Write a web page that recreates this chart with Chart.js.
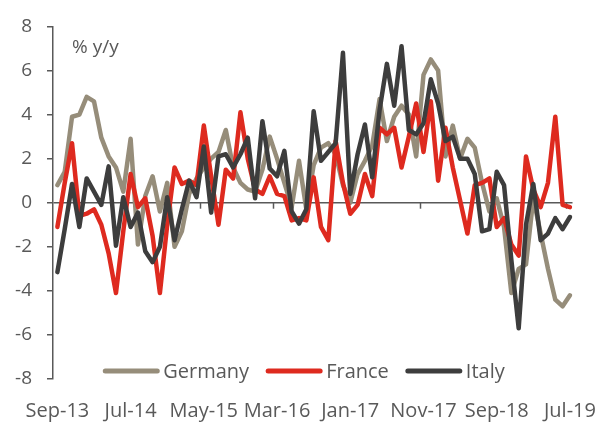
<!DOCTYPE html>
<html>
<head>
<meta charset="utf-8">
<script src="https://cdn.jsdelivr.net/npm/chart.js@4.4.1/dist/chart.umd.min.js"></script>
<style>
	html, body { margin: 0; padding: 0; background: #ffffff; }
	#wrap { width: 602px; height: 423px; }
</style>
</head>
<body>
<div id="wrap"><canvas id="chart" width="602" height="423"></canvas></div>
<script>
// monthly categories, Sep-13 .. Jul-19
const months = [
	"Sep-13", "Oct-13", "Nov-13", "Dec-13",
	"Jan-14", "Feb-14", "Mar-14", "Apr-14", "May-14", "Jun-14", "Jul-14", "Aug-14", "Sep-14", "Oct-14", "Nov-14", "Dec-14",
	"Jan-15", "Feb-15", "Mar-15", "Apr-15", "May-15", "Jun-15", "Jul-15", "Aug-15", "Sep-15", "Oct-15", "Nov-15", "Dec-15",
	"Jan-16", "Feb-16", "Mar-16", "Apr-16", "May-16", "Jun-16", "Jul-16", "Aug-16", "Sep-16", "Oct-16", "Nov-16", "Dec-16",
	"Jan-17", "Feb-17", "Mar-17", "Apr-17", "May-17", "Jun-17", "Jul-17", "Aug-17", "Sep-17", "Oct-17", "Nov-17", "Dec-17",
	"Jan-18", "Feb-18", "Mar-18", "Apr-18", "May-18", "Jun-18", "Jul-18", "Aug-18", "Sep-18", "Oct-18", "Nov-18", "Dec-18",
	"Jan-19", "Feb-19", "Mar-19", "Apr-19", "May-19", "Jun-19", "Jul-19",
];

// every 10th month gets a label
const labelIndex = [0, 10, 20, 30, 40, 50, 60, 70];
const yTicks = [-8, -6, -4, -2, 0, 2, 4, 6, 8];

const germany = [
	0.8, 1.4, 3.9, 4.0, 4.8, 4.6, 2.95, 2.1, 1.6, 0.5,
	2.9, -1.9, 0.3, 1.2, -0.4, 0.9, -2.0, -1.3, 0.4, 1.1,
	1.6, 2.0, 2.3, 3.3, 1.6, 0.9, 0.6, 0.5, 1.5, 3.0,
	2.0, 0.9, -0.2, 1.9, -0.3, 1.7, 2.5, 2.7, 2.2, 0.8,
	0.0, 1.3, 1.9, 2.6, 4.7, 2.8, 3.9, 4.4, 4.0, 2.1,
	5.8, 6.5, 6.0, 2.1, 3.5, 2.0, 2.9, 2.5, 0.9, -0.4,
	0.2, -1.1, -4.1, -3.0, -2.8, 0.2, -1.4, -3.0, -4.4, -4.7,
	-4.2,
];

const france = [
	-1.1, 0.9, 2.7, -0.6, -0.5, -0.3, -1.0, -2.3, -4.1, -1.3,
	1.3, -0.2, 0.2, -1.5, -4.1, -1.0, 1.6, 0.85, 1.0, 0.8,
	3.5, 1.2, -1.0, 1.5, 1.1, 4.1, 2.0, 0.6, 0.4, 1.2,
	0.4, 0.3, -0.8, -0.7, -0.8, 1.15, -1.1, -1.7, 2.8, 0.9,
	-0.5, -0.1, 1.3, 0.3, 3.4, 3.1, 3.4, 1.6, 3.0, 4.5,
	2.3, 4.6, 1.0, 3.4, 1.6, 0.1, -1.4, 0.8, 0.9, 1.1,
	-1.1, -0.7, -1.9, -2.4, 2.1, 0.6, -0.2, 0.9, 3.9, -0.1,
	-0.2,
];

const italy = [
	-3.15, -1.2, 0.85, -1.1, 1.1, 0.5, -0.1, 1.65, -1.95, 0.25,
	-1.1, -0.45, -2.2, -2.7, -2.0, 0.25, -1.7, -0.3, 1.0, 0.25,
	2.55, -0.45, 2.1, 2.2, 1.6, 2.2, 2.95, 0.2, 3.7, 1.55,
	1.2, 2.35, -0.4, -0.95, -0.3, 4.15, 1.9, 2.3, 2.7, 6.8,
	0.4, 2.2, 3.55, 1.15, 4.2, 6.3, 4.4, 7.1, 3.3, 3.1,
	3.6, 5.6, 4.5, 2.8, 3.0, 2.0, 2.0, 1.3, -1.3, -1.2,
	1.4, 0.8, -2.6, -5.7, -1.0, 0.85, -1.7, -1.4, -0.7, -1.2,
	-0.65,
];

const textColor = "#595959";
const axisColor = "#595959";
const fontFamily = "'Open Sans', 'Noto Sans', sans-serif";

function toPoints(values) {
	return values.map((v, i) => ({ x: i, y: v }));
}

function series(label, values, color, order) {
	return {
		label: label,
		data: toPoints(values),
		borderColor: color,
		backgroundColor: color,
		borderWidth: 4.5,
		borderJoinStyle: "round",
		borderCapStyle: "round",
		pointRadius: 0,
		tension: 0,
		order: order,
	};
}

// small tick marks hanging under the zero line, between months
const zeroTicks = {
	id: "zeroTicks",
	beforeDatasetsDraw(chart) {
		const ctx = chart.ctx;
		const xs = chart.scales.x;
		const y0 = chart.scales.y.getPixelForValue(0);
		ctx.save();
		ctx.strokeStyle = axisColor;
		ctx.lineWidth = 1.5;
		labelIndex.slice(1).forEach((i) => {
			const x = Math.round(xs.getPixelForValue(i - 0.5)) + 0.5;
			ctx.beginPath();
			ctx.moveTo(x, y0);
			ctx.lineTo(x, y0 + 6);
			ctx.stroke();
		});
		ctx.restore();
	},
};

// unit text + legend drawn inside the plot
const overlay = {
	id: "overlay",
	afterDatasetsDraw(chart) {
		const ctx = chart.ctx;
		const area = chart.chartArea;
		ctx.save();
		ctx.font = `19px ${fontFamily}`;
		ctx.fillStyle = textColor;
		ctx.textAlign = "left";
		ctx.textBaseline = "alphabetic";
		ctx.fillText("% y/y", area.left + 19, area.top + 27);

		ctx.font = `20px ${fontFamily}`;
		const sample = 56;
		const gap = 4;
		const spacing = 17;
		const items = chart.data.datasets.map((ds) => ({
			label: ds.label,
			color: ds.borderColor,
			w: ctx.measureText(ds.label).width,
		}));
		const total = items.reduce((s, it) => s + sample + gap + it.w, 0) + spacing * (items.length - 1);
		let x = chart.width / 2 - total / 2 + 3;
		const lineY = area.bottom - 8;
		items.forEach((it) => {
			ctx.strokeStyle = it.color;
			ctx.lineWidth = 5;
			ctx.lineCap = "round";
			ctx.beginPath();
			ctx.moveTo(x + 2, lineY);
			ctx.lineTo(x + sample - 2, lineY);
			ctx.stroke();
			ctx.fillStyle = textColor;
			ctx.fillText(it.label, x + sample + gap, area.bottom - 1);
			x += sample + gap + it.w + spacing;
		});
		ctx.restore();
	},
};

new Chart(document.getElementById("chart"), {
	type: "line",
	data: {
		datasets: [
			series("Germany", germany, "#968d7a", 3),
			series("France", france, "#de2a1f", 2),
			series("Italy", italy, "#3d3d3d", 1),
		],
	},
	options: {
		responsive: false,
		animation: false,
		devicePixelRatio: 1,
		layout: {
			padding: { top: 24, right: 29.5, bottom: 0, left: 0 },
		},
		plugins: {
			legend: { display: false },
			tooltip: { enabled: false },
		},
		scales: {
			x: {
				type: "linear",
				min: -0.6,
				max: 70.35,
				afterBuildTicks: (scale) => {
					scale.ticks = labelIndex.map((v) => ({ value: v }));
				},
				afterFit: (scale) => {
					scale.height = 44;
					scale.paddingLeft = 0;
					scale.paddingRight = 0;
				},
				ticks: {
					autoSkip: false,
					maxRotation: 0,
					padding: 20,
					color: textColor,
					font: { family: fontFamily, size: 20 },
					callback: (v) => months[v],
				},
				grid: { display: false, drawTicks: false },
				border: { display: false },
			},
			y: {
				min: -8,
				max: 8,
				afterBuildTicks: (scale) => {
					scale.ticks = yTicks.map((v) => ({ value: v }));
				},
				afterFit: (scale) => {
					scale.width = 53;
				},
				ticks: {
					padding: 15,
					color: textColor,
					font: { family: fontFamily, size: 19 },
				},
				grid: {
					drawTicks: true,
					tickLength: 6,
					tickColor: axisColor,
					lineWidth: 1.5,
					color: (c) => (c.tick && c.tick.value === 0 ? axisColor : "rgba(0,0,0,0)"),
				},
				border: { display: true, color: axisColor, width: 1.5 },
			},
		},
	},
	plugins: [zeroTicks, overlay],
});
</script>
</body>
</html>
